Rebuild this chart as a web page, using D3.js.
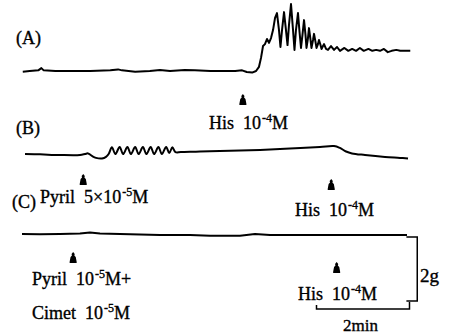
<!DOCTYPE html>
<html>
<head>
<meta charset="utf-8">
<script src="https://cdn.jsdelivr.net/npm/d3@7"></script>
<style>
  body { margin: 0; background: #fff; }
  svg { display: block; }
  text { font-family: "Liberation Serif", "DejaVu Serif", serif; fill: #000; stroke: #000; stroke-width: 0.35; white-space: pre; }
</style>
</head>
<body>
<script>
const width = 452;
const height = 336;

// tension traces: [time in s, tension above resting level in g]
const traceA = [
  [1, -0.02], [10, 0], [21, 0.02], [25, 0.09], [28, 0.02], [43, 0], [62, 0], [88, 0],
  [114, 0.02], [124, 0.05], [129, 0.02], [146, -0.02], [165, 0], [178, 0.03], [191, 0],
  [210, 0.03], [223, 0.02], [243, 0], [262, 0], [275, 0], [284, 0.02], [290, -0.03],
  [297, -0.05], [302, 0], [305.8, 0.13], [308.4, 0.41], [311, 0.78], [313.5, 0.84],
  [316.1, 1.0], [318.7, 0.88], [321.3, 1.03], [323.9, 1.28], [326.5, 1.66], [329, 1.81],
  [331.6, 1.28], [333.5, 0.75], [335.5, 1.28], [338.1, 1.84], [340.6, 1.28], [342.6, 0.81],
  [344.5, 1.44], [347.1, 2.09], [349.7, 1.28], [351.6, 0.66], [353.5, 1.28], [356.1, 1.81],
  [358.1, 1.22], [360, 0.72], [361.9, 1.13], [363.9, 1.59], [365.8, 1.13], [367.1, 0.72],
  [369, 1.03], [370.3, 1.34], [372.3, 0.97], [373.5, 0.72], [375.5, 0.97], [376.8, 1.16],
  [378.7, 0.91], [380, 0.72], [381.9, 0.84], [383.2, 0.97], [385.2, 0.81], [386.5, 0.69],
  [388.4, 0.78], [389.7, 0.84], [392.3, 0.69], [394.8, 0.66], [398.7, 0.78], [402.6, 0.66],
  [406.5, 0.75], [410.3, 0.63], [416, 0.72], [421, 0.63], [426, 0.69], [431, 0.63],
  [436, 0.72], [441, 0.63], [447, 0.69], [452, 0.63], [457, 0.66], [462, 0.63], [467, 0.69],
  [472, 0.59], [477, 0.63], [483, 0.66], [488, 0.63], [493, 0.63], [501, 0.63]
];

const traceB = [
  [3.9, 0.03], [23.2, 0.02], [49, 0], [74.8, 0], [81.3, 0.03], [85.2, 0.05], [90.3, -0.03],
  [95.5, -0.09], [103.2, -0.11], [108.4, -0.06], [112, 0.04], [116, 0.24], [120.5, 0.03],
  [126, 0.25], [130.5, 0.03], [136, 0.25], [140.5, 0.03], [146, 0.25], [150.5, 0.03],
  [156, 0.25], [160.5, 0.03], [166, 0.25], [170.5, 0.03], [176, 0.25], [180.5, 0.03],
  [186, 0.25], [190, 0.06], [194, 0.24], [198, 0.09], [205, 0.09], [229.7, 0.11],
  [268.4, 0.13], [307.1, 0.16], [345.8, 0.2], [384.5, 0.25], [402.6, 0.28], [410.3, 0.22],
  [418.1, 0.11], [425.8, 0.05], [442.6, 0], [468.4, -0.06], [487.7, -0.09], [498.1, -0.11]
];

const traceC = [
  [0, 0.03], [23.2, 0.02], [49, 0.03], [74.8, 0.05], [87.7, 0.08], [100.6, 0.05],
  [139.4, 0.02], [178.1, 0], [216.8, 0], [242.6, -0.02], [281.3, -0.02], [300.6, 0.03],
  [320, 0], [358.7, 0], [397.4, 0], [436.1, 0], [474.8, 0], [496.8, 0]
];

const panelNames = ['(A)', '(B)', '(C)'];

// drug additions (s) and their labels; ^...^ marks a superscript
const doseTimesA = [285];
const doseTimesB = [79, 399];
const doseTimesC = [66, 406];
const doseLabelsA = [['His  10^-4^M']];
const doseLabelsB = [['Pyril  5×10^-5^M'], ['His  10^-4^M']];
const doseLabelsC = [['Pyril  10^-5^M+', 'Cimet  10^-5^M'], ['His  10^-4^M']];

const scaleBarGrams = 2;
const scaleBarSeconds = 120;
const scaleBarLabels = ['2g', '2min'];

// layout
const x = d3.scaleLinear().domain([0, 500]).range([22, 409.5]);
const pxPerGram = 32;
const panels = [
  { name: panelNames[0], base: 71, trace: traceA, curve: d3.curveLinear, doses: doseTimesA, labels: doseLabelsA,
    nameAt: [16, 44], arrowBottom: [105], labelAt: [[209, 129]] },
  { name: panelNames[1], base: 155, trace: traceB, curve: d3.curveCatmullRom, doses: doseTimesB, labels: doseLabelsB,
    nameAt: [16, 134], arrowBottom: [185, 190], labelAt: [[40, 203], [295, 216]] },
  { name: panelNames[2], base: 235, trace: traceC, curve: d3.curveLinear, doses: doseTimesC, labels: doseLabelsC,
    nameAt: [12, 208], arrowBottom: [263, 273], labelAt: [[32, 285], [298, 300]] }
];
const fontSize = 18;
const lineGap = 34;

const svg = d3.select('body').append('svg')
  .attr('width', width)
  .attr('height', height)
  .attr('viewBox', [0, 0, width, height]);

svg.append('rect').attr('width', width).attr('height', height).attr('fill', '#fff');

const arrowShape = d3.line()([
  [0, -11], [1.6, -9], [1.2, -7.6], [2.6, -6], [3.5, -1.2], [3.5, 0],
  [-3.5, 0], [-3.5, -1.2], [-2.6, -6], [-1.2, -7.6], [-1.6, -9]
]) + 'Z';

function writeLabel(g, str, lx, ly) {
  const t = g.append('text')
    .attr('x', lx)
    .attr('y', ly)
    .attr('font-size', fontSize);
  str.split('^').forEach((part, i) => {
    if (i % 2) {
      t.append('tspan').attr('font-size', 12).attr('dy', -7).attr('dx', 1).text(part);
    } else {
      t.append('tspan').attr('dy', i ? 7 : 0).text(part);
    }
  });
}

panels.forEach(p => {
  const y = d3.scaleLinear().domain([0, 1]).range([p.base, p.base - pxPerGram]);
  const g = svg.append('g');

  g.append('text')
    .attr('x', p.nameAt[0])
    .attr('y', p.nameAt[1])
    .attr('font-size', fontSize)
    .text(p.name);

  g.append('path')
    .datum(p.trace)
    .attr('fill', 'none')
    .attr('stroke', '#000')
    .attr('stroke-width', 2)
    .attr('stroke-linejoin', 'round')
    .attr('d', d3.line().x(d => x(d[0])).y(d => y(d[1])).curve(p.curve));

  p.doses.forEach((t, i) => {
    g.append('path')
      .attr('d', arrowShape)
      .attr('fill', '#000')
      .attr('transform', `translate(${x(t)},${p.arrowBottom[i]})`);
    p.labels[i].forEach((line, j) => {
      writeLabel(g, line, p.labelAt[i][0], p.labelAt[i][1] + j * lineGap);
    });
  });
});

// calibration bars
const yC = d3.scaleLinear().domain([0, 1]).range([panels[2].base, panels[2].base - pxPerGram]);
const barTop = 237;
const barLen = yC(0) - yC(scaleBarGrams);
const barX = x(510);
const bars = svg.append('g')
  .attr('fill', 'none')
  .attr('stroke', '#000')
  .attr('stroke-width', 1.5);

bars.append('path')
  .attr('d', `M${x(496)},${barTop}H${barX}V${barTop + barLen}H${x(496)}`);

const hY = 309;
bars.append('path')
  .attr('d', `M${x(380)},${hY - 4}V${hY}H${x(380 + scaleBarSeconds)}V${hY - 7}`);

svg.append('text')
  .attr('x', 420)
  .attr('y', 282)
  .attr('font-size', fontSize + 1)
  .text(scaleBarLabels[0]);

svg.append('text')
  .attr('x', 343)
  .attr('y', 331)
  .attr('font-size', fontSize - 1)
  .text(scaleBarLabels[1]);
</script>
</body>
</html>
